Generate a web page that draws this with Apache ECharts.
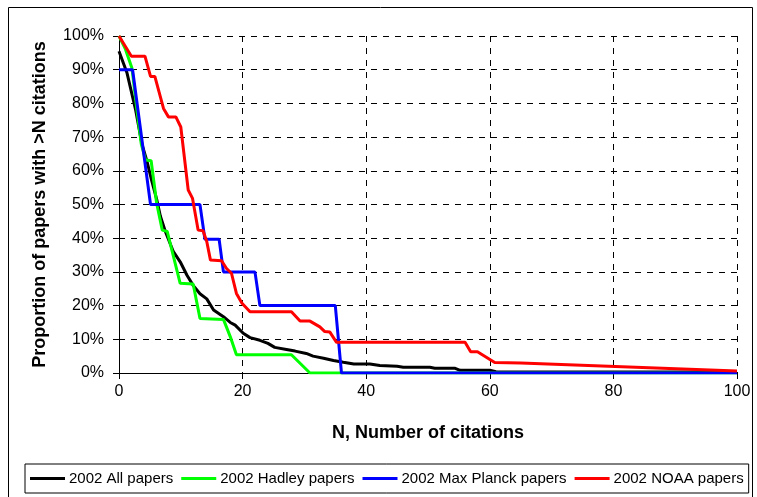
<!DOCTYPE html>
<html>
<head>
<meta charset="utf-8">
<script src="https://cdn.jsdelivr.net/npm/echarts@6/dist/echarts.min.js"></script>
<style>
html,body{margin:0;padding:0;background:#fff;}
#chart{width:757px;height:497px;}
</style>
</head>
<body>
<div id="chart"></div>
<script>
// Data: [N, percent of papers with > N citations]
const allPapers = [[0,95.5],[1.3,89],[2.7,78],[3.7,68],[4.5,63],[5.3,57],[6.1,51.5],[6.7,46.5],[7.5,42],[8.8,36],[9.9,33],[11,29],[12,26],[13.1,23.5],[14.2,22],[15.3,18.7],[16.9,16.7],[18,15],[18.8,14.2],[20.1,11.8],[21.2,10.5],[22.8,9.7],[24.1,8.8],[25.2,7.6],[27.1,7],[28.5,6.5],[30.3,5.8],[31.4,5],[33.1,4.4],[34.7,3.7],[36.3,3.2],[38,2.7],[40.6,2.7],[42.2,2.2],[45,2.0],[46,1.7],[50.3,1.7],[51.1,1.4],[54.4,1.4],[55.2,0.8],[60,0.8],[61,0.4],[100,0.3]];
const hadley = [[0,100],[1,96.3],[2.1,90.4],[2.9,78],[3.6,68],[4.3,63.2],[5.2,63],[6.1,50.3],[7,42.4],[7.8,42],[9.9,26.6],[12,26.4],[13.1,16.2],[16.9,15.9],[18,10.8],[19,5.4],[27.9,5.4],[30.9,0],[100,0]];
const maxPlanck = [[0,90],[2.2,90],[5.1,50],[13.1,50],[13.9,39.7],[16.2,39.7],[16.9,30],[22,30],[22.8,20],[35,20],[36,0],[100,0]];
const noaa = [[0,100],[2,94],[4.2,94],[5.1,88],[5.8,88],[7.2,78.5],[8,76],[9.2,76],[10,73],[11.2,54.3],[11.9,51.8],[12.8,42.4],[13.6,42.2],[14.2,39],[14.8,33.5],[16.6,33.3],[17.4,31],[18.2,29.6],[19,23.6],[19.9,20.7],[21.2,18.2],[27.9,18.2],[29.3,15.4],[30.9,15.4],[32.5,13.7],[33.3,12.3],[34.1,12.2],[35.2,9.1],[56,9.1],[56.9,6.3],[58,6.3],[60.8,3.1],[65,3],[100,0.6]];
const seriesNames = ['2002 All papers','2002 Hadley papers','2002 Max Planck papers','2002 NOAA papers'];
const seriesColors = ['#000000','#00ff00','#0000ff','#ff0000'];
const xTitle = 'N, Number of citations';
const yTitle = 'Proportion of papers with >N citations';

const chart = echarts.init(document.getElementById('chart'), null, {renderer:'canvas'});
const font = 'Liberation Sans, Arial, sans-serif';
const dataSets = [allPapers, hadley, maxPlanck, noaa];
chart.setOption({
  animation:false,
  textStyle:{fontFamily:font},
  graphic:[{type:'rect',shape:{x:8.5,y:7.5,width:744,height:520},style:{fill:'none',stroke:'#000',lineWidth:1},silent:true,z:-1}],
  grid:{left:119,top:36,right:20,bottom:124,containLabel:false},
  xAxis:[{
    type:'value',min:0,max:100,interval:20,position:'bottom',
    name:xTitle,nameLocation:'middle',nameGap:51,
    nameTextStyle:{fontSize:18,fontWeight:'bold',color:'#000',fontFamily:font},
    axisLine:{show:true,onZero:false,lineStyle:{color:'#000',width:1}},
    axisTick:{show:true,length:6,lineStyle:{color:'#000'}},
    axisLabel:{fontSize:16,color:'#000',margin:11,fontFamily:font},
    splitLine:{show:true,lineStyle:{color:'#000',type:[6,6],width:1}}
  },{
    type:'value',min:0,max:100,position:'top',
    axisLine:{show:true,lineStyle:{color:'#000',width:1}},
    axisTick:{show:false},axisLabel:{show:false},splitLine:{show:false}
  }],
  yAxis:{
    type:'value',min:0,max:100,interval:10,
    name:yTitle,nameLocation:'middle',nameGap:70,
    nameTextStyle:{fontSize:18,fontWeight:'bold',color:'#000',fontFamily:font},
    axisLine:{show:true,lineStyle:{color:'#000',width:1}},
    axisTick:{show:true,length:6,lineStyle:{color:'#000'}},
    axisLabel:{fontSize:16,color:'#000',margin:15,formatter:'{value}%',fontFamily:font},
    splitLine:{show:true,lineStyle:{color:'#000',type:[6,6],width:1}}
  },
  legend:{
    data:seriesNames, left:25, top:464, orient:'horizontal',
    icon:'rect', itemWidth:35, itemHeight:3, itemGap:8,
    borderColor:'#000', borderWidth:1, borderRadius:0, padding:[7,5],
    textStyle:{fontSize:15,color:'#000',fontFamily:font,padding:[0,0,0,-1]}
  },
  series: dataSets.map((d,i)=>({
    name:seriesNames[i], type:'line', data:d, xAxisIndex:0,
    showSymbol:false, symbol:'none',
    lineStyle:{color:seriesColors[i],width:3}, itemStyle:{color:seriesColors[i]},
    z:2+i
  }))
});
</script>
</body>
</html>
